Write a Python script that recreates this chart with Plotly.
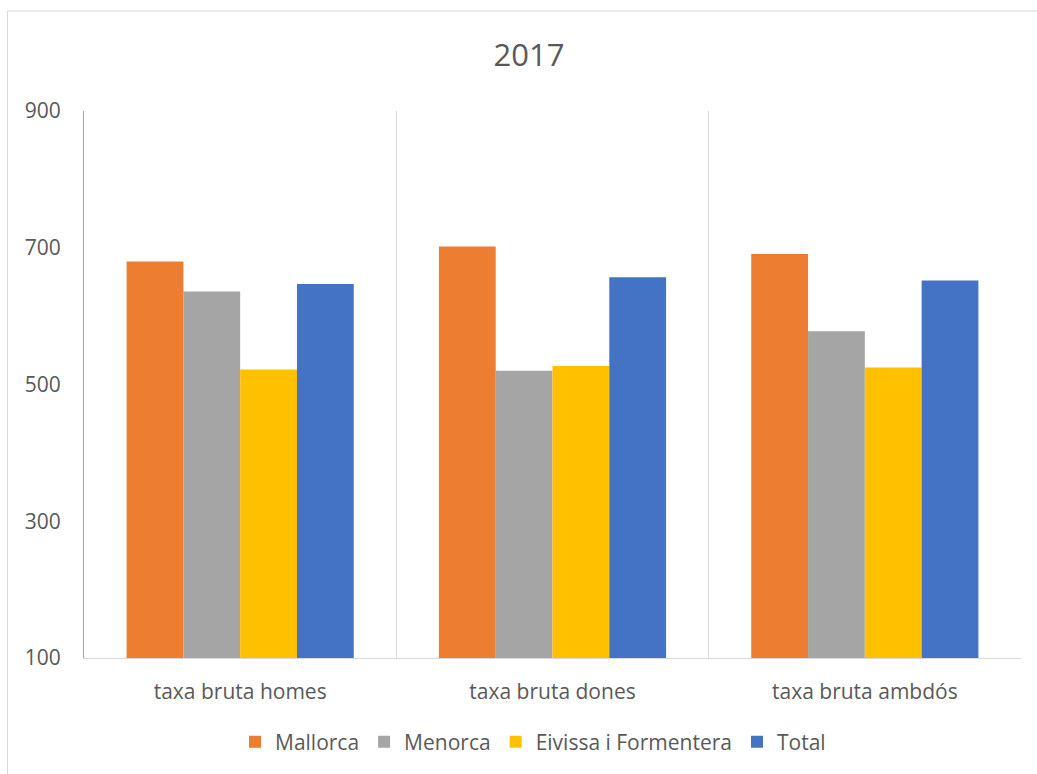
import plotly.graph_objects as go

# Categories, series and values
categories = ["taxa bruta homes", "taxa bruta dones", "taxa bruta ambdós"]
series_names = ["Mallorca", "Menorca", "Eivissa i Formentera", "Total"]
mallorca = [680, 702, 691]
menorca = [636, 520, 578]
eivissa = [522, 527, 525]
total = [647, 657, 652]
y_ticks = [100, 300, 500, 700, 900]

series_values = [mallorca, menorca, eivissa, total]
colors = ["#ED7D31", "#A5A5A5", "#FFC000", "#4472C4"]

FONT = "Open Sans"
TEXT = "#595959"
FS = 21

fig = go.Figure()
for name, vals, col in zip(series_names, series_values, colors):
    fig.add_trace(go.Bar(
        x=categories, y=vals, name=name,
        marker=dict(color=col, line=dict(width=0)),
        hoverinfo="x+y+name",
    ))

W, H = 1037, 774
L, R, T, B = 84, 16, 111, 116
pw, ph = W - L - R, H - T - B

def px_x(p):
    return (p - L) / pw

def px_y(p):
    return (H - B - p) / ph

fig.update_layout(
    width=W, height=H,
    margin=dict(l=L, r=R, t=T, b=B, autoexpand=False),
    paper_bgcolor="white", plot_bgcolor="white",
    font=dict(family=FONT, color=TEXT, size=FS),
    barmode="group", bargap=0.2727, bargroupgap=0,
    title=dict(text="2017", font=dict(size=31, color=TEXT, family=FONT),
               x=529 / W, xanchor="center", xref="container",
               y=1 - 55 / H, yanchor="middle", yref="container"),
    xaxis=dict(
        type="category", tickson="boundaries",
        showgrid=True, gridcolor="#D9D9D9", gridwidth=1,
        showline=True, linecolor="#D9D9D9", linewidth=1,
        ticks="", ticklabelstandoff=15,
        tickfont=dict(size=FS, color=TEXT, family=FONT),
        tickangle=0, automargin=False,
        zeroline=False,
    ),
    yaxis=dict(
        range=[100, 900], tickvals=y_ticks,
        showgrid=False, zeroline=False,
        showline=True, linecolor="#A6A6A6", linewidth=1,
        ticks="outside", ticklen=18, tickcolor="rgba(0,0,0,0)",
        tickfont=dict(size=FS, color=TEXT, family=FONT),
        automargin=False,
    ),
    legend=dict(
        orientation="h", x=px_x(533), xanchor="center",
        y=px_y(742), yanchor="middle",
        font=dict(size=FS, color=TEXT, family=FONT),
        bgcolor="rgba(0,0,0,0)", traceorder="normal",
    ),
    shapes=[dict(
        type="rect", xref="paper", yref="paper",
        x0=px_x(7.5), x1=px_x(1050), y0=px_y(800), y1=px_y(11),
        line=dict(color="#D9D9D9", width=1), fillcolor="rgba(0,0,0,0)",
        layer="below",
    )],
)

fig.write_html("out.html")
